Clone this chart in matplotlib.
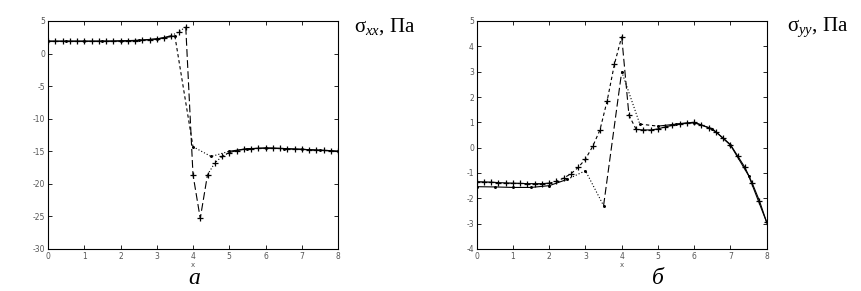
import numpy as np
import matplotlib
matplotlib.use("Agg")
import matplotlib.pyplot as plt

plt.rcParams['mathtext.fontset'] = 'custom'
plt.rcParams['mathtext.rm'] = 'Liberation Serif'
plt.rcParams['mathtext.it'] = 'Liberation Serif:italic'
plt.rcParams['axes.unicode_minus'] = False

# ---------------- data: left panel (sigma_xx) ----------------
xa_fine = [round(0.2 * i, 1) for i in range(41)]
ya_fine = [1.9, 1.9, 1.9, 1.9, 1.9, 1.9, 1.9, 1.9, 1.9, 1.9,
           1.95, 1.95, 2.0, 2.05, 2.15, 2.25, 2.45, 2.75, 3.3, 4.1,
           -18.6, -25.3, -18.6, -16.8, -15.8, -15.2, -14.9, -14.7, -14.6, -14.55,
           -14.5, -14.5, -14.55, -14.6, -14.65, -14.7, -14.75, -14.8, -14.85, -14.9,
           -15.0]
xa_coarse = [0.5 * i for i in range(17)]
ya_coarse = [1.9, 1.9, 1.9, 1.9, 1.95, 2.05, 2.25, 2.7, -14.3, -15.8,
             -15.0, -14.6, -14.5, -14.6, -14.7, -14.85, -15.0]

# ---------------- data: right panel (sigma_yy) ----------------
xb_fine = [round(0.2 * i, 1) for i in range(41)]
yb_fine = [-1.34, -1.35, -1.36, -1.38, -1.39, -1.4, -1.41, -1.42, -1.42, -1.42,
           -1.4, -1.33, -1.2, -1.03, -0.78, -0.45, 0.05, 0.7, 1.86, 3.3,
           4.38, 1.28, 0.72, 0.7, 0.7, 0.74, 0.82, 0.88, 0.95, 0.98,
           1.0, 0.9, 0.78, 0.62, 0.38, 0.12, -0.33, -0.78, -1.4, -2.1,
           -2.95]
xb_coarse = [0.5 * i for i in range(17)]
yb_coarse = [-1.54, -1.55, -1.57, -1.57, -1.5, -1.25, -0.91, -2.29, 3.0, 0.93,
             0.85, 0.93, 0.98, 0.75, 0.1, -1.1, -2.95]

xticks = [0, 1, 2, 3, 4, 5, 6, 7, 8]
yticks_a = [5, 0, -5, -10, -15, -20, -25, -30]
yticks_b = [5, 4, 3, 2, 1, 0, -1, -2, -3, -4]

# ---------------- styling ----------------
LW = 0.8
C = 'black'
LONG = (0, (7, 3))
SHORT = (0, (3, 2.5))
DOT = (0, (1, 1.8))


def draw(ax, x, y, segs, marker, ms):
    for i, j, ls in segs:
        ax.plot(x[i:j + 1], y[i:j + 1], color=C, lw=LW, linestyle=ls)
    ax.plot(x, y, linestyle='none', marker=marker, color=C, ms=ms, mew=0.9)


def style(ax, yticks, ylim):
    ax.set_xlim(0, 8)
    ax.set_ylim(*ylim)
    ax.set_xticks(xticks)
    ax.set_yticks(yticks)
    ax.tick_params(direction='in', top=True, right=True, length=3, width=0.6,
                   labelsize=5.5, labelcolor='#555555', pad=2)
    for s in ax.spines.values():
        s.set_linewidth(0.8)
    ax.set_xlabel('x', fontsize=5, color='#555555', labelpad=1)


fig = plt.figure(figsize=(8.61, 2.91), dpi=100)
ax1 = fig.add_axes([48 / 861, 42 / 291, 290 / 861, 228 / 291])
ax2 = fig.add_axes([476.7 / 861, 42 / 291, 290 / 861, 228 / 291])

# left panel
draw(ax1, xa_fine, ya_fine,
     [(0, 17, '-'), (17, 19, DOT), (19, 22, LONG), (22, 25, DOT), (25, 40, '-')],
     '+', 4.5)
draw(ax1, xa_coarse, ya_coarse,
     [(0, 7, '-'), (7, 8, SHORT), (8, 10, DOT), (10, 16, '-')],
     '.', 2.5)
style(ax1, yticks_a, (-30, 5))

# right panel
draw(ax2, xb_fine, yb_fine,
     [(0, 10, '-'), (10, 20, SHORT), (20, 21, LONG), (21, 22, SHORT), (22, 40, '-')],
     '+', 4.5)
draw(ax2, xb_coarse, yb_coarse,
     [(0, 5, '-'), (5, 7, DOT), (7, 8, LONG), (8, 9, DOT), (9, 10, SHORT), (10, 16, '-')],
     '.', 2.5)
style(ax2, yticks_b, (-4, 5))

# outer labels
fig.text(354 / 861, 1 - 27 / 291, r'$\mathrm{σ}_{xx}$, Па', fontsize=15,
         family='Liberation Serif', va='center', ha='left')
fig.text(787 / 861, 1 - 27 / 291, r'$\mathrm{σ}_{yy}$, Па', fontsize=15,
         family='Liberation Serif', va='center', ha='left')
fig.text(194 / 861, 1 - 279 / 291, 'а', fontsize=17, style='italic',
         family='Liberation Serif', ha='center', va='center')
fig.text(658 / 861, 1 - 279 / 291, 'б', fontsize=17, style='italic',
         family='Liberation Serif', ha='center', va='center')

fig.savefig('out.png', dpi=100)
